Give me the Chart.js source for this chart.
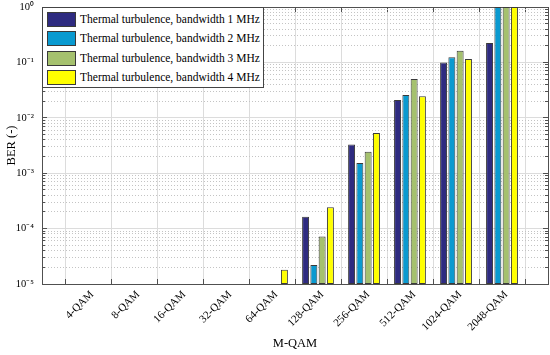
<!DOCTYPE html>
<html>
<head>
<meta charset="utf-8">
<script src="https://cdn.jsdelivr.net/npm/chart.js@4.4.0/dist/chart.umd.min.js"></script>
<style>
  html, body { margin: 0; padding: 0; background: #fff; }
  #wrap { position: relative; width: 550px; height: 355px; }
  #legend {
    position: absolute; left: 42px; top: 7px; width: 222px; height: 81px;
    background: #fff; border: 1px solid #444; box-sizing: border-box;
    font-family: "Liberation Serif", serif; font-size: 11.5px; color: #000;
  }
  #legend .row { position: absolute; left: 4px; height: 14px; line-height: 14px; white-space: nowrap; }
  #legend .sw { display: inline-block; width: 27px; height: 13px; border: 1px solid #3a3a3a;
    vertical-align: top; margin-right: 4px; }
</style>
</head>
<body>
<div id="wrap">
  <canvas id="berChart" width="550" height="355"></canvas>
  <div id="legend"></div>
</div>
<script>
const categories = ["4-QAM", "8-QAM", "16-QAM", "32-QAM", "64-QAM",
    "128-QAM", "256-QAM", "512-QAM", "1024-QAM", "2048-QAM"];

const seriesNames = [
    "Thermal turbulence, bandwidth 1 MHz",
    "Thermal turbulence, bandwidth 2 MHz",
    "Thermal turbulence, bandwidth 3 MHz",
    "Thermal turbulence, bandwidth 4 MHz"
];

const bw1 = [null, null, null, null, null, 1.64e-4, 3.3e-3, 2.1e-2, 0.100, 0.224];
const bw2 = [null, null, null, null, null, 2.2e-5, 1.53e-3, 2.58e-2, 0.124, 1];
const bw3 = [null, null, null, null, null, 7.2e-5, 2.45e-3, 5.0e-2, 0.163, 1];
const bw4 = [null, null, null, null, 1.8e-5, 2.42e-4, 5.3e-3, 2.44e-2, 0.115, 1];

const yTickValues = [1e-5, 1e-4, 1e-3, 1e-2, 1e-1, 1];
const yTickLabels = ["10\u207B\u2075", "10\u207B\u2074", "10\u207B\u00B3",
    "10\u207B\u00B2", "10\u207B\u00B9", "10\u2070"];

const barColors = ["#2E2B80", "#0A9AD0", "#A5C16E", "#FFFF00"];

const axisColor = "#505050";
const majorGrid = "#dcdcdc";
const minorGrid = "#c4c4c4";
const none = "rgba(0,0,0,0)";

// pad one empty slot each side so the axis runs a full step past the first/last group
const labels = ["", ...categories, ""];
const pad = arr => [null, ...arr, null];

function isDecade(v) {
    const l = Math.log10(v);
    return Math.abs(l - Math.round(l)) < 1e-9;
}

function logTicks(scale) {
    const ticks = [];
    for (let e = -5; e < 0; e++) {
        for (let k = 1; k <= 9; k++) {
            ticks.push({ value: k * Math.pow(10, e) });
        }
    }
    ticks.push({ value: 1 });
    scale.ticks = ticks;
}

function flatFit(scale) {
    if (scale.isHorizontal()) scale.height = 0; else scale.width = 0;
    scale.paddingTop = 0;
    scale.paddingBottom = 0;
    scale.paddingLeft = 0;
    scale.paddingRight = 0;
}

// helper axes that only add inside tick marks / minor grid
function helperLogAxis(position, weight, tickLen, major, gridOn) {
    return {
        type: "logarithmic",
        position: position,
        weight: weight,
        min: 1e-5,
        max: 1,
        afterBuildTicks: logTicks,
        grid: {
            drawOnChartArea: gridOn,
            drawTicks: true,
            tickLength: tickLen,
            color: ctx => (gridOn && !isDecade(ctx.tick.value)) ? minorGrid : none,
            tickColor: ctx => (isDecade(ctx.tick.value) === major) ? axisColor : none
        },
        border: { display: position === "right", color: axisColor, width: 1, dash: [1, 2] },
        ticks: { display: false },
        afterFit: flatFit
    };
}

const datasets = [bw1, bw2, bw3, bw4].map((d, i) => ({
    label: seriesNames[i],
    data: pad(d),
    backgroundColor: barColors[i],
    borderColor: "#3a3a3a",
    borderWidth: 1,
    borderSkipped: false,
    categoryPercentage: 0.72,
    barPercentage: 0.84
}));

new Chart(document.getElementById("berChart"), {
    type: "bar",
    data: { labels: labels, datasets: datasets },
    options: {
        responsive: false,
        animation: false,
        devicePixelRatio: 1,
        layout: { padding: { top: 7, right: 2, left: 0, bottom: 0 } },
        plugins: {
            legend: { display: false },
            tooltip: { enabled: false }
        },
        scales: {
            x: {
                type: "category",
                offset: false,
                grid: {
                    color: majorGrid,
                    drawTicks: true,
                    tickLength: -5,
                    tickColor: axisColor
                },
                border: { color: axisColor, width: 1 },
                ticks: {
                    autoSkip: false,
                    minRotation: 45,
                    maxRotation: 45,
                    padding: 9,
                    labelOffset: 4,
                    color: "#000",
                    font: { family: "Liberation Serif", size: 11 }
                },
                title: {
                    display: true,
                    text: "M-QAM",
                    color: "#000",
                    font: { family: "Liberation Serif", size: 12.5 },
                    padding: { top: 2, bottom: 4 }
                },
                afterFit(scale) {
                    scale.height = 71;
                    scale.paddingLeft = 0;
                    scale.paddingRight = 0;
                }
            },
            xTop: {
                type: "category",
                position: "top",
                offset: false,
                grid: {
                    drawOnChartArea: false,
                    drawTicks: true,
                    tickLength: -5,
                    tickColor: axisColor
                },
                border: { color: axisColor, width: 1 },
                ticks: { display: false },
                afterFit: flatFit
            },
            y: {
                type: "logarithmic",
                min: 1e-5,
                max: 1,
                weight: 1,
                afterBuildTicks: logTicks,
                grid: {
                    drawTicks: true,
                    tickLength: -5,
                    color: ctx => isDecade(ctx.tick.value) ? majorGrid : none,
                    tickColor: ctx => isDecade(ctx.tick.value) ? axisColor : none
                },
                border: { color: axisColor, width: 1 },
                ticks: {
                    autoSkip: false,
                    padding: 13,
                    color: "#000",
                    font: { family: "Liberation Serif", size: 10.5 },
                    callback: value => {
                        const i = yTickValues.findIndex(t => Math.abs(Math.log10(t) - Math.log10(value)) < 1e-9);
                        return i >= 0 ? yTickLabels[i] : "";
                    }
                },
                title: {
                    display: true,
                    text: "BER (-)",
                    color: "#000",
                    font: { family: "Liberation Serif", size: 12.5 },
                    padding: { top: 4, bottom: 2 }
                },
                afterFit(scale) {
                    scale.width = 42;
                    scale.paddingTop = 0;
                    scale.paddingBottom = 0;
                }
            },
            yMinorLeft: helperLogAxis("left", -1, -3, false, false),
            yMinor: helperLogAxis("right", 1, -3, false, true),
            yMajorRight: helperLogAxis("right", -1, -5, true, false)
        }
    }
});

// legend box in the upper-left corner of the plot
const legendEl = document.getElementById("legend");
seriesNames.forEach((name, i) => {
    const row = document.createElement("div");
    row.className = "row";
    row.style.top = (4 + i * 19.3) + "px";
    const sw = document.createElement("span");
    sw.className = "sw";
    sw.style.background = barColors[i];
    row.appendChild(sw);
    row.appendChild(document.createTextNode(name));
    legendEl.appendChild(row);
});
</script>
</body>
</html>
